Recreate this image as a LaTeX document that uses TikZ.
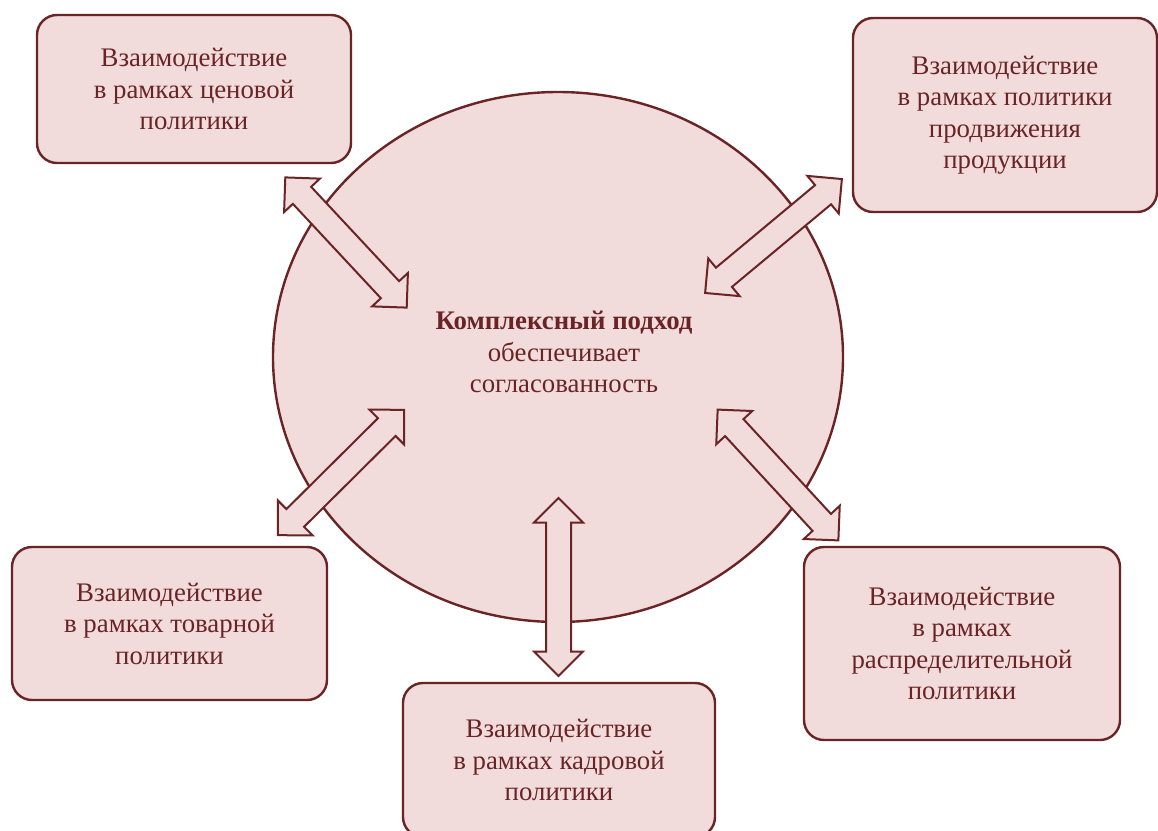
\documentclass[tikz,border=0pt]{standalone}
\usepackage{fontspec}
\setmainfont{Liberation Serif}
\usepackage{tikz}
\usetikzlibrary {shapes.geometric,
                 shapes.arrows}
\definecolor{rim}{HTML}{6A2425}
\definecolor{rose}{HTML}{F2DCDB}
\tikzset{
    base/.style={draw=rim, fill=rose, line width=2.4pt, text=rim,
                 align=center, font=\fontsize{26.8}{31.5}\selectfont},
        box/.style={base, rectangle, rounded corners=20pt},
        hub/.style={base, ellipse, minimum width=570pt, minimum height=530pt},
        link/.style={double arrow, draw=rim, fill=rose, line width=2pt,
                     minimum height=178pt, minimum width=47pt, inner sep=11.5pt,
                     double arrow head extend=12pt, double arrow tip angle=90},
 }

\begin{document}
\begin{tikzpicture}[x=1pt, y=-1pt]

    \useasboundingbox (0,0) rectangle (1158,830);

    \node[hub] (hub) at (558,357) {};
    \node[text=rim, align=center, font=\fontsize{26.8}{31.5}\selectfont]
        (core) at (564,352) {\textbf{Комплексный подход}\\обеспечивает\\согласованность};

    \node[link, rotate=-47] (a1) at (346,242.5) {};
    \node[link, rotate=39.8] (a2) at (773.5,236) {};
    \node[link, rotate=44.8] (a3) at (341,472.5) {};
    \node[link, rotate=-47.3] (a4) at (778,475) {};
    \node[link, rotate=90] (a5) at (558.5,587) {};

    \node[box, minimum width=314pt, minimum height=148pt] (price) at (194,89)
        {Взаимодействие\\в рамках ценовой\\политики};
    \node[box, minimum width=304pt, minimum height=194pt] (promo) at (1005,115)
        {Взаимодействие\\в рамках политики\\продвижения\\продукции};
    \node[box, minimum width=315pt, minimum height=153pt] (goods) at (169.5,623.5)
        {Взаимодействие\\в рамках товарной\\политики};
    \node[box, minimum width=312pt, minimum height=154pt] (staff) at (559,760)
        {Взаимодействие\\в рамках кадровой\\политики};
    \node[box, minimum width=316pt, minimum height=193pt] (distrib) at (962,643.5)
        {Взаимодействие\\в рамках\\распределительной\\политики};

\end{tikzpicture}
\end{document}
